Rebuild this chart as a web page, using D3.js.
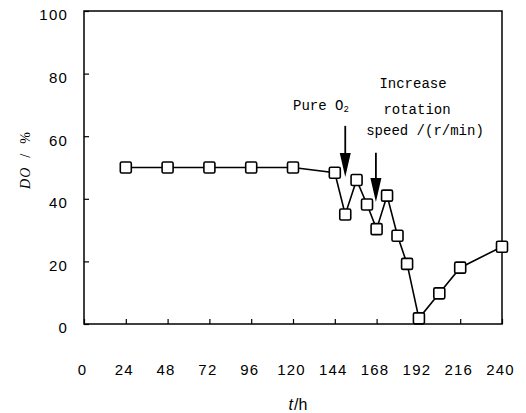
<!DOCTYPE html>
<html>
  <head>
    <meta charset="utf-8">
    <title>DO vs time</title>
    <script src="https://d3js.org/d3.v7.min.js"></script>
    <style>
      body { margin: 0; background: #fff; }
      svg text { fill: #000; }
    </style>
  </head>
  <body>
    <svg width="526" height="413"></svg>
    <script>
      // readings
      const hours = [24, 48, 72, 96, 120, 144, 150, 156.5, 162.5, 168, 174, 180, 185.5, 192.3, 204, 216, 240];
      const doValues = [50, 50, 50, 50, 50, 48.3, 35, 46, 38.2, 30.3, 41, 28.2, 19.2, 1.8, 9.8, 18, 24.7];
      const xTicks = [0, 24, 48, 72, 96, 120, 144, 168, 192, 216, 240];
      const yTicks = [0, 20, 40, 60, 80, 100];
      // arrows: [x, top, tip] in data units
      const arrows = [[150, 63.3, 47], [167.6, 54.7, 39]];

      const svg = d3.select("svg");
      const width = +svg.attr("width");
      const height = +svg.attr("height");
      const margin = { top: 11, right: 24, bottom: 89, left: 84 };
      const innerW = width - margin.left - margin.right;
      const innerH = height - margin.top - margin.bottom;

      const xScale = d3.scaleLinear().domain([0, 240]).range([0, innerW]);
      const yScale = d3.scaleLinear().domain([0, 100]).range([innerH, 0]);

      const g = svg.append("g").attr("transform", `translate(${margin.left},${margin.top})`);

      // frame
      g.append("rect")
        .attr("width", innerW).attr("height", innerH)
        .attr("fill", "none").attr("stroke", "#000").attr("stroke-width", 1.5);

      const xAxis = g.append("g")
        .attr("transform", `translate(0,${innerH})`)
        .call(d3.axisBottom(xScale).tickValues(xTicks).tickSizeInner(-5).tickSizeOuter(0).tickPadding(40));
      const yAxis = g.append("g")
        .call(d3.axisLeft(yScale).tickValues(yTicks).tickSizeInner(-5).tickSizeOuter(0).tickPadding(16));

      [xAxis, yAxis].forEach(a => {
        a.select(".domain").remove();
        a.selectAll("line").attr("stroke", "#000").attr("stroke-width", 1.2);
        a.selectAll("text")
          .attr("font-family", "Liberation Sans, Arial, sans-serif")
          .attr("font-size", 15)
          .attr("letter-spacing", 1.2)
          .attr("fill", "#000");
      });
      xAxis.selectAll("text").attr("dx", -2).attr("x", null);
      yAxis.selectAll("text").attr("dy", "0.72em").attr("y", -2);

      // line + markers
      const pts = hours.map((h, i) => [h, doValues[i]]);
      const line = d3.line().x(d => xScale(d[0])).y(d => yScale(d[1]));
      g.append("path")
        .datum(pts)
        .attr("d", line)
        .attr("fill", "none")
        .attr("stroke", "#000")
        .attr("stroke-width", 1.6);

      const size = 11;
      g.selectAll("rect.pt").data(pts).enter().append("rect")
        .attr("class", "pt")
        .attr("x", d => xScale(d[0]) - size / 2)
        .attr("y", d => yScale(d[1]) - size / 2)
        .attr("width", size).attr("height", size)
        .attr("rx", 1.5)
        .attr("fill", "#fff")
        .attr("stroke", "#000")
        .attr("stroke-width", 1.6);

      // arrows
      arrows.forEach(([x, top, tip]) => {
        const px = xScale(x);
        const yTip = yScale(tip);
        const headLen = 24, headW = 5.5;
        g.append("line")
          .attr("x1", px).attr("x2", px)
          .attr("y1", yScale(top)).attr("y2", yTip - headLen + 2)
          .attr("stroke", "#000").attr("stroke-width", 1.8);
        g.append("path")
          .attr("d", `M${px - headW},${yTip - headLen} L${px + headW},${yTip - headLen} L${px},${yTip} Z`)
          .attr("fill", "#000");
      });

      // annotations
      const mono = "Liberation Mono, Courier New, monospace";
      const pure = svg.append("text")
        .attr("x", 293).attr("y", 110)
        .attr("font-family", mono).attr("font-size", 14);
      pure.append("tspan").text("Pure O");
      pure.append("tspan").attr("font-size", 9).attr("dy", 2).text("2");

      const ann = ["Increase", "rotation", "speed /(r/min)"];
      const annX = [413, 417, 425];
      const annY = [88, 114, 135];
      svg.selectAll("text.ann").data(ann).enter().append("text")
        .attr("class", "ann")
        .attr("x", (d, i) => annX[i]).attr("y", (d, i) => annY[i])
        .attr("text-anchor", "middle")
        .attr("font-family", mono).attr("font-size", 14)
        .text(d => d);

      // axis titles
      const xt = svg.append("text")
        .attr("x", 298).attr("y", 410)
        .attr("text-anchor", "middle")
        .attr("font-family", "Liberation Sans, Arial, sans-serif")
        .attr("font-size", 16);
      xt.append("tspan").attr("font-style", "italic").text("t");
      xt.append("tspan").attr("dx", 1).text("/h");

      const yt = svg.append("text")
        .attr("transform", "translate(30,160) rotate(-90)")
        .attr("text-anchor", "middle")
        .attr("font-family", "Liberation Serif, Times New Roman, serif")
        .attr("font-size", 14)
        .attr("letter-spacing", 1);
      yt.append("tspan").attr("font-style", "italic").text("DO");
      yt.append("tspan").attr("xml:space", "preserve").text("  /  %");
    </script>
  </body>
</html>
